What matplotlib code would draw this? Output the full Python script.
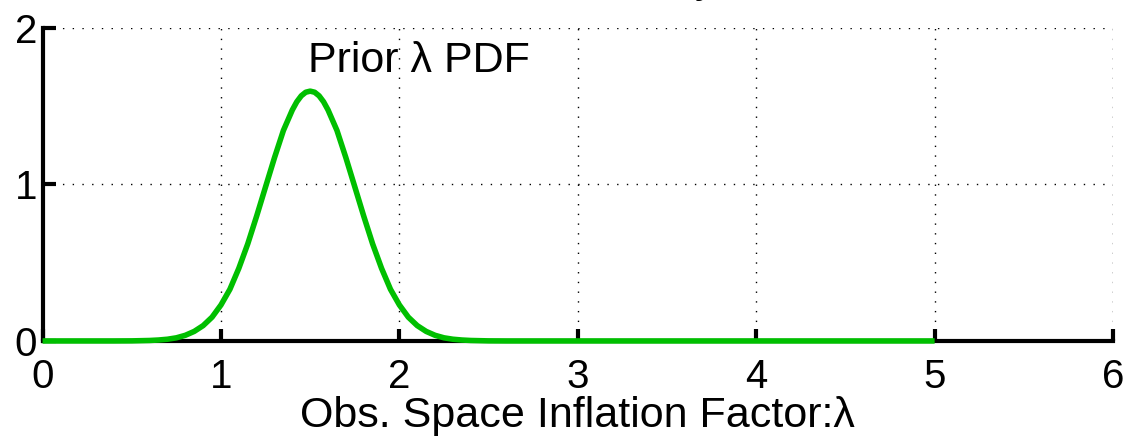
import matplotlib
matplotlib.use("Agg")
import matplotlib.pyplot as plt

# Prior lambda PDF
lam = [0.0, 0.2, 0.4, 0.5, 0.6, 0.65, 0.7, 0.75, 0.8, 0.85, 0.9, 0.95,
       1.0, 1.05, 1.1, 1.15, 1.2, 1.25, 1.3, 1.35, 1.4, 1.425, 1.45, 1.475, 1.5,
       1.525, 1.55, 1.575, 1.6, 1.65, 1.7, 1.75, 1.8,
       1.85, 1.9, 1.95, 2.0, 2.05, 2.1, 2.15, 2.2, 2.25, 2.3, 2.35, 2.4, 2.5, 2.6, 2.8, 3.0, 3.5, 4.0, 4.5, 5.0]
pdf = [0.0, 0.0, 0.0, 0.0005, 0.003, 0.006, 0.011, 0.020, 0.036, 0.061, 0.098, 0.152,
       0.230, 0.330, 0.464, 0.620, 0.798, 0.985, 1.171, 1.345, 1.476, 1.528, 1.566, 1.589, 1.596,
       1.589, 1.566, 1.528, 1.476, 1.345, 1.171, 0.985, 0.798,
       0.620, 0.464, 0.330, 0.230, 0.152, 0.098, 0.061, 0.036, 0.020, 0.011, 0.006, 0.003, 0.0005, 0.0, 0.0, 0.0, 0.0, 0.0, 0.0, 0.0]
xticks = [0, 1, 2, 3, 4, 5, 6]
yticks = [0, 1, 2]

plt.rcParams['font.family'] = ['Liberation Sans', 'DejaVu Sans']

fig = plt.figure(figsize=(11.26, 4.36), dpi=100)
ax = fig.add_axes([0.0378, 0.218, 0.9507, 0.718])
ax.plot(lam, pdf, color='#00bf00', lw=4.0, solid_capstyle='butt', solid_joinstyle='round',
        zorder=3, clip_on=False)
ax.set_xlim(0, 6)
ax.set_ylim(0, 2)
ax.set_xticks(xticks)
ax.set_yticks(yticks)
ax.grid(True, linestyle=(0, (1, 6)), color='black', lw=1.0)
for s in ['top', 'right']:
    ax.spines[s].set_visible(False)
for s in ['left', 'bottom']:
    ax.spines[s].set_linewidth(3)
ax.tick_params(direction='in', length=9, width=3, labelsize=29, pad=4)
ax.tick_params(axis='x', pad=12)
ax.set_xlabel('Obs. Space Inflation Factor:λ', fontsize=31, labelpad=0)
ax.text(2.11, 1.72, 'Prior λ PDF', fontsize=31, ha='center', va='baseline')
fig.text(0.637, 1.018, 'Probability', fontsize=31, ha='right', va='baseline')
fig.savefig('out.png', dpi=100)
